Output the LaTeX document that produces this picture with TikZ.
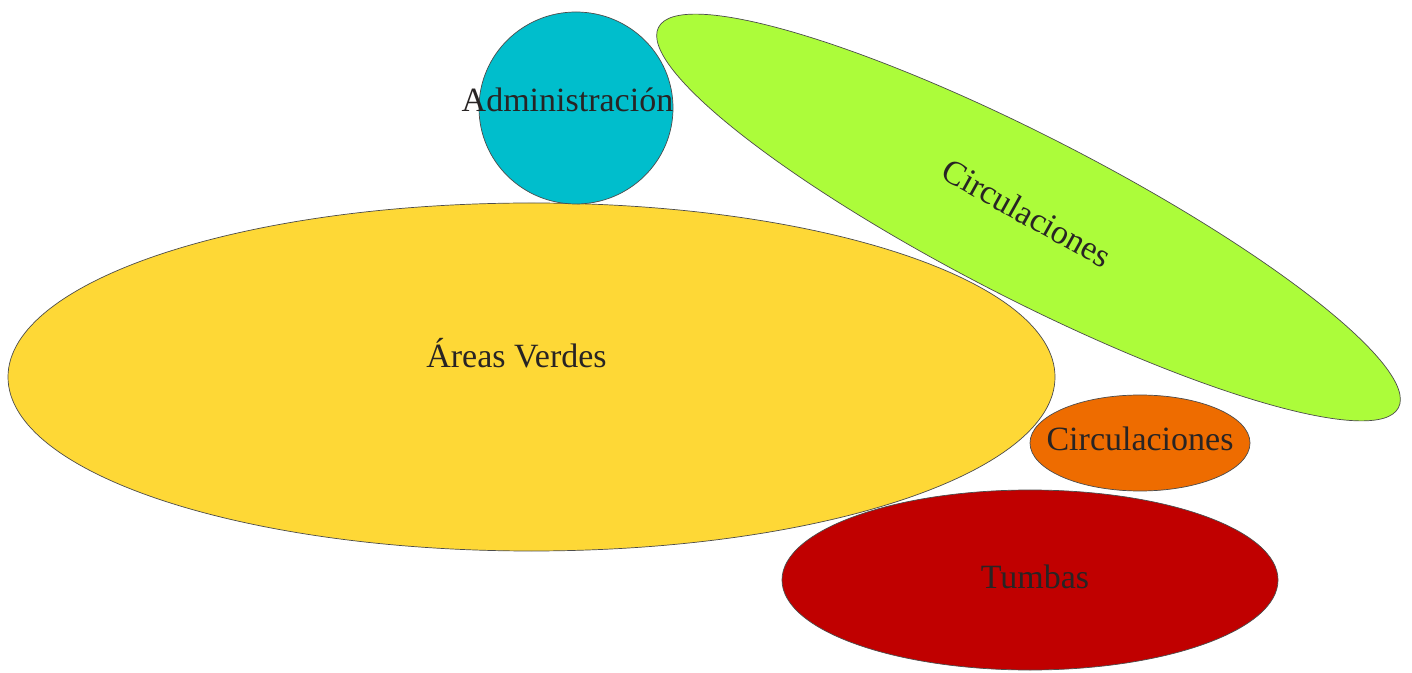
\documentclass[tikz,border=0pt]{standalone}
\usepackage{fontspec}
\setmainfont{Liberation Serif}
\definecolor{cyanfill}{RGB}{0,190,204}
\definecolor{greenfill}{RGB}{172,252,58}
\definecolor{yellowfill}{RGB}{254,216,54}
\definecolor{orangefill}{RGB}{238,108,0}
\definecolor{redfill}{RGB}{192,0,0}
\definecolor{txt}{RGB}{40,36,36}
\begin{document}
\begin{tikzpicture}[x=1pt,y=1pt,
  blob/.style={draw=black!70, line width=0.7pt},
  lbl/.style={text=txt, font=\fontsize{34}{40}\selectfont, inner sep=0pt}]
\useasboundingbox[fill=white] (0,0) rectangle (1412,672);
% shapes
\draw[blob, fill=yellowfill] (531.5,295) ellipse [x radius=523.5, y radius=174];
\draw[blob, fill=cyanfill] (576,564) ellipse [x radius=97, y radius=96];
\draw[blob, fill=greenfill, rotate around={-27.2:(1028.5,454.5)}] (1028.5,454.5) ellipse [x radius=416, y radius=81];
\draw[blob, fill=orangefill] (1140,229) ellipse [x radius=110, y radius=48];
\draw[blob, fill=redfill] (1030,92) ellipse [x radius=248, y radius=90];
% labels
\node[lbl, anchor=base] (adm) at (567.5,560) {Administración};
\node[lbl, anchor=base] (av) at (516.5,304) {Áreas Verdes};
\node[lbl, anchor=base] (circ2) at (1140,221) {Circulaciones};
\node[lbl, anchor=base] (tum) at (1035,84) {Tumbas};
\node[lbl, rotate=-29] (circ1) at (1027,459) {Circulaciones};
\end{tikzpicture}
\end{document}
